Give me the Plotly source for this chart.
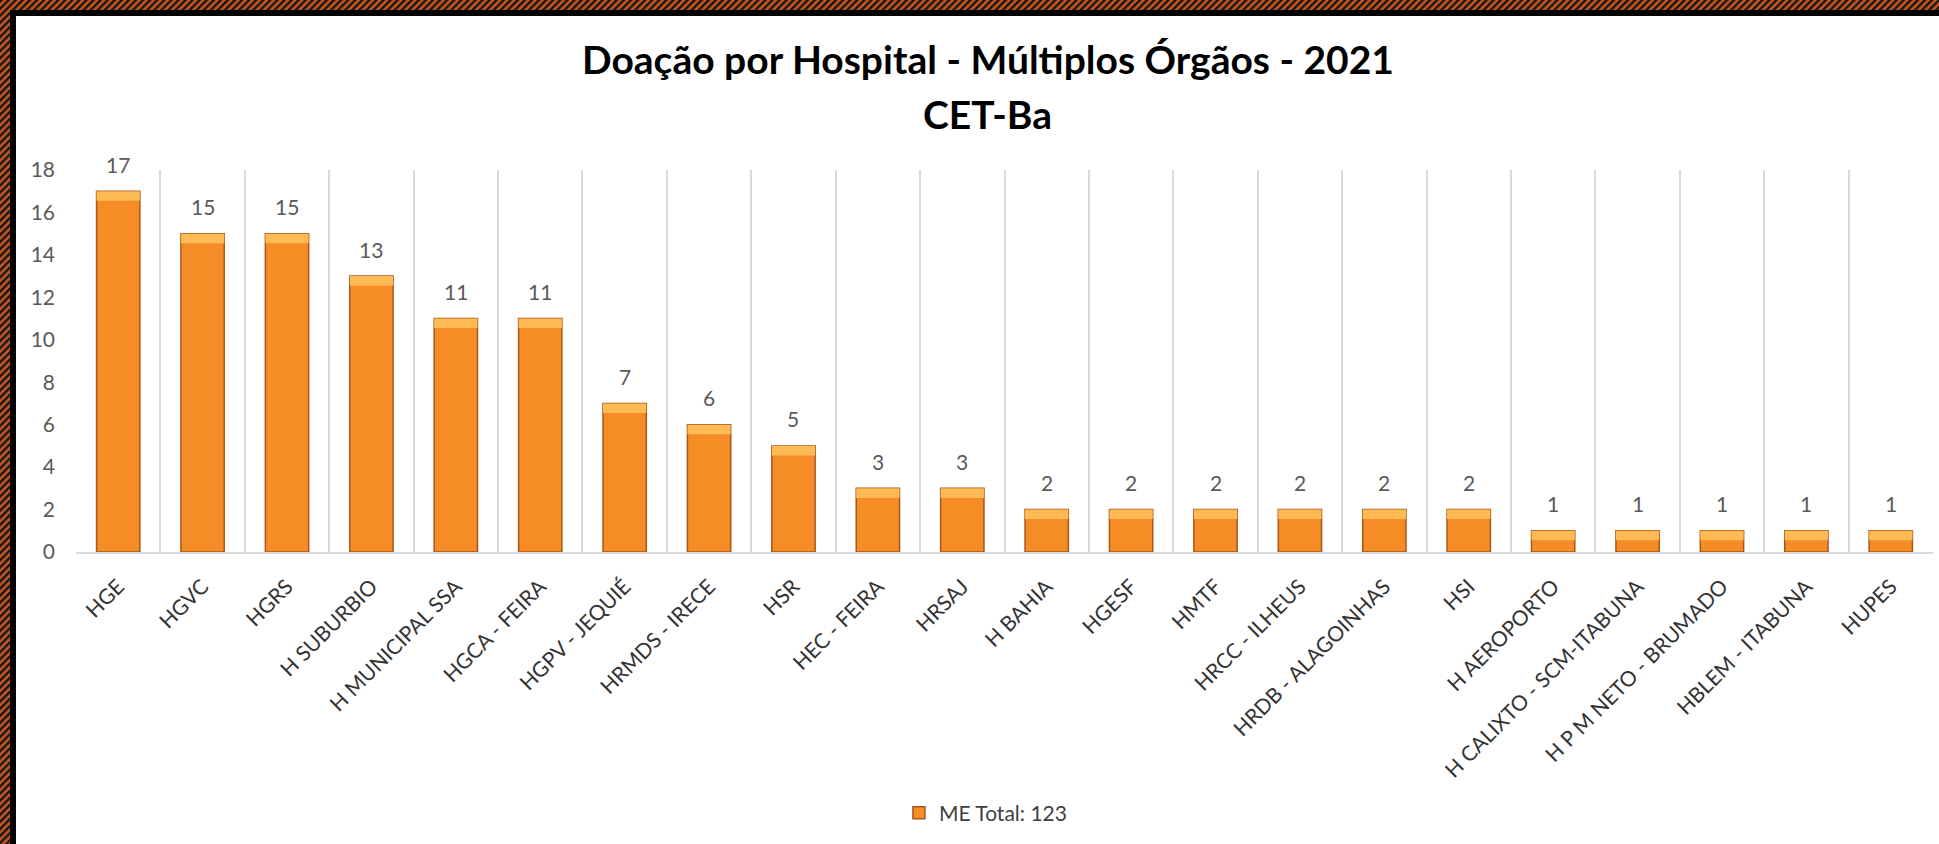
import base64
import plotly.graph_objects as go

# ---- data ----
hospitals = [
    "HGE", "HGVC", "HGRS", "H SUBURBIO", "H MUNICIPAL SSA", "HGCA - FEIRA",
    "HGPV - JEQUIÉ", "HRMDS - IRECE", "HSR", "HEC - FEIRA", "HRSAJ", "H BAHIA",
    "HGESF", "HMTF", "HRCC - ILHEUS", "HRDB - ALAGOINHAS", "HSI", "H AEROPORTO",
    "H CALIXTO - SCM-ITABUNA", "H P M NETO - BRUMADO", "HBLEM - ITABUNA", "HUPES",
]
values = [17, 15, 15, 13, 11, 11, 7, 6, 5, 3, 3, 2, 2, 2, 2, 2, 2, 1, 1, 1, 1, 1]
series_name = "ME Total"
title_line1 = "Doação por Hospital - Múltiplos Órgãos - 2021"
title_line2 = "CET-Ba"
y_ticks = [0, 2, 4, 6, 8, 10, 12, 14, 16, 18]

# ---- geometry (pixels) ----
W, H = 1939, 844
L, R, T, B = 76, 6, 170, 292
PW, PH = W - L - R, H - T - B


def px_to_paper_y(py):
    return (H - B - py) / PH


FONT = "Lato, 'Open Sans', sans-serif"
BEVEL = 0.45  # height of the lighter top strip in axis units (style)

fig = go.Figure()
fig.add_trace(go.Bar(
    x=hospitals, y=values, name=f"{series_name}: {sum(values)}",
    marker=dict(color="#F58C26", line=dict(color="#A9561A", width=1.5)),
    showlegend=True, hoverinfo="x+y",
))
fig.add_trace(go.Bar(
    x=hospitals, y=[BEVEL] * len(values), base=[v - BEVEL for v in values],
    marker=dict(color="#FDBA55", line=dict(width=0)),
    showlegend=False, hoverinfo="skip",
))

# value labels
for h, v in zip(hospitals, values):
    fig.add_annotation(x=h, y=v, xref="x", yref="y", text=str(v), showarrow=False,
                       yshift=27, font=dict(family=FONT, size=21, color="#595959"))

# titles
fig.add_annotation(x=0.5, xref="paper", y=px_to_paper_y(59), yref="paper",
                   text=f"<b>{title_line1}</b>", showarrow=False, yanchor="middle",
                   xshift=-17,
                   font=dict(family=FONT, size=39, color="#000000"))
fig.add_annotation(x=0.5, xref="paper", y=px_to_paper_y(114), yref="paper",
                   text=f"<b>{title_line2}</b>", showarrow=False, yanchor="middle",
                   xshift=-17,
                   font=dict(family=FONT, size=39, color="#000000"))

# hatched frame (top and left) drawn as an SVG image over the paper
svg = (
    f"<svg xmlns='http://www.w3.org/2000/svg' width='{W}' height='{H}' viewBox='0 0 {W} {H}' preserveAspectRatio='none'>"
    "<defs><pattern id='h' width='5' height='5' patternUnits='userSpaceOnUse' patternTransform='rotate(45)'>"
    "<rect width='5' height='5' fill='#C9561C'/><rect width='2.4' height='5' fill='#151515'/></pattern></defs>"
    f"<rect x='0' y='0' width='{W}' height='10' fill='url(#h)'/>"
    f"<rect x='0' y='0' width='10' height='{H}' fill='url(#h)'/>"
    f"<rect x='10' y='10' width='{W-10}' height='6' fill='#000'/>"
    f"<rect x='10' y='10' width='6' height='{H-10}' fill='#000'/>"
    "</svg>"
)
src = "data:image/svg+xml;base64," + base64.b64encode(svg.encode()).decode()
fig.add_layout_image(dict(source=src, xref="paper", yref="paper",
                          x=-L / PW, y=(H - B) / PH, sizex=W / PW, sizey=H / PH,
                          xanchor="left", yanchor="top", sizing="stretch", layer="above"))

fig.update_layout(
    width=W, height=H,
    margin=dict(l=L, r=R, t=T, b=B, autoexpand=False),
    paper_bgcolor="white", plot_bgcolor="white",
    barmode="overlay", bargap=0.487,
    font=dict(family=FONT, color="#404040"),
    legend=dict(orientation="h", x=0.49, xanchor="center", y=px_to_paper_y(813),
                yanchor="middle", font=dict(family=FONT, size=21, color="#404040")),
    xaxis=dict(type="category", tickson="boundaries", showgrid=True,
               gridcolor="#D9D9D9", gridwidth=1.5, showline=True, linecolor="#D9D9D9",
               linewidth=2, ticks="", tickangle=-45, range=[-0.5, len(hospitals) - 0.5],
               ticklabelstandoff=12,
               tickfont=dict(family=FONT, size=21, color="#333333")),
    yaxis=dict(range=[0, 18], tickvals=y_ticks, showgrid=False, zeroline=False,
               showline=False, ticks="", ticklabelstandoff=20,
               tickfont=dict(family=FONT, size=21, color="#595959")),
    showlegend=True,
)

fig.write_html("out.html", config={"displayModeBar": False},
               post_script="document.body.style.margin='0';document.body.style.overflow='hidden';")
